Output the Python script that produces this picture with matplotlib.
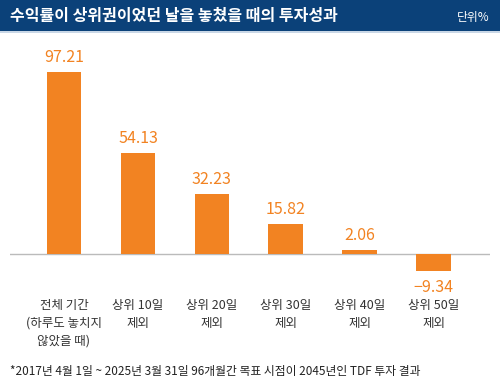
import matplotlib
matplotlib.use('Agg')
import matplotlib.pyplot as plt
from matplotlib import transforms
from matplotlib.patches import Rectangle

plt.rcParams['font.family'] = ['Noto Sans CJK KR', 'DejaVu Sans']

categories = ['전체 기간\n(하루도 놓치지\n않았을 때)', '상위 10일\n제외', '상위 20일\n제외',
              '상위 30일\n제외', '상위 40일\n제외', '상위 50일\n제외']
values = [97.21, 54.13, 32.23, 15.82, 2.06, -9.34]
title = '수익률이 상위권이었던 날을 놓쳤을 때의 투자성과'
unit = '단위%'
footnote = '*2017년 4월 1일 ~ 2025년 3월 31일 96개월간 목표 시점이 2045년인 TDF 투자 결과'

orange = '#F28322'
navy = '#0B4179'

W, H = 500, 390
fig = plt.figure(figsize=(W / 100, H / 100), dpi=100)
fig.patch.set_facecolor('white')

# header band
fig.patches.append(Rectangle((0, 1 - 31 / H), 1, 31 / H, transform=fig.transFigure,
                             facecolor=navy, edgecolor='none', zorder=0))
fig.patches.append(Rectangle((0, 1 - 33 / H), 1, 2 / H, transform=fig.transFigure,
                             facecolor='#c9d7e6', edgecolor='none', zorder=0))
fig.text(10 / W, 1 - 16 / H, title, color='white', fontsize=11.5, fontweight='bold',
         va='center', ha='left')
fig.text(490 / W, 1 - 17 / H, unit, color='white', fontsize=8.5, va='center', ha='right')

# plot area
top_px, bot_px, base_px = 45, 280, 254
scale = 1.87  # px per unit
ax = fig.add_axes([10 / W, 1 - bot_px / H, 480 / W, (bot_px - top_px) / H])
ax.set_xlim(-0.73, 5.76)
ax.set_ylim(-(bot_px - base_px) / scale, (base_px - top_px) / scale)
ax.axis('off')

x = list(range(len(values)))
ax.bar(x, values, width=0.47, color=orange, zorder=2)
ax.axhline(0, color='#bbbbbb', linewidth=1, zorder=1)

for xi, v in zip(x, values):
    if v >= 0:
        ax.annotate(f'{v:.2f}', (xi, v), xytext=(0, 6), textcoords='offset pixels',
                    ha='center', va='bottom', color=orange, fontsize=11.5)
    else:
        ax.annotate(f'\u2212{abs(v):.2f}', (xi, v), xytext=(0, -8), textcoords='offset pixels',
                    ha='center', va='top', color=orange, fontsize=11.5)

trans = transforms.blended_transform_factory(ax.transData, fig.transFigure)
for xi, c in zip(x, categories):
    ax.text(xi, 1 - 299 / H, c, transform=trans, ha='center', va='top',
            fontsize=9, color='#333333', linespacing=1.5)

fig.text(10 / W, 1 - 371 / H, footnote, fontsize=8.5, color='#222222', va='center', ha='left')

fig.savefig('out.png', dpi=100)
